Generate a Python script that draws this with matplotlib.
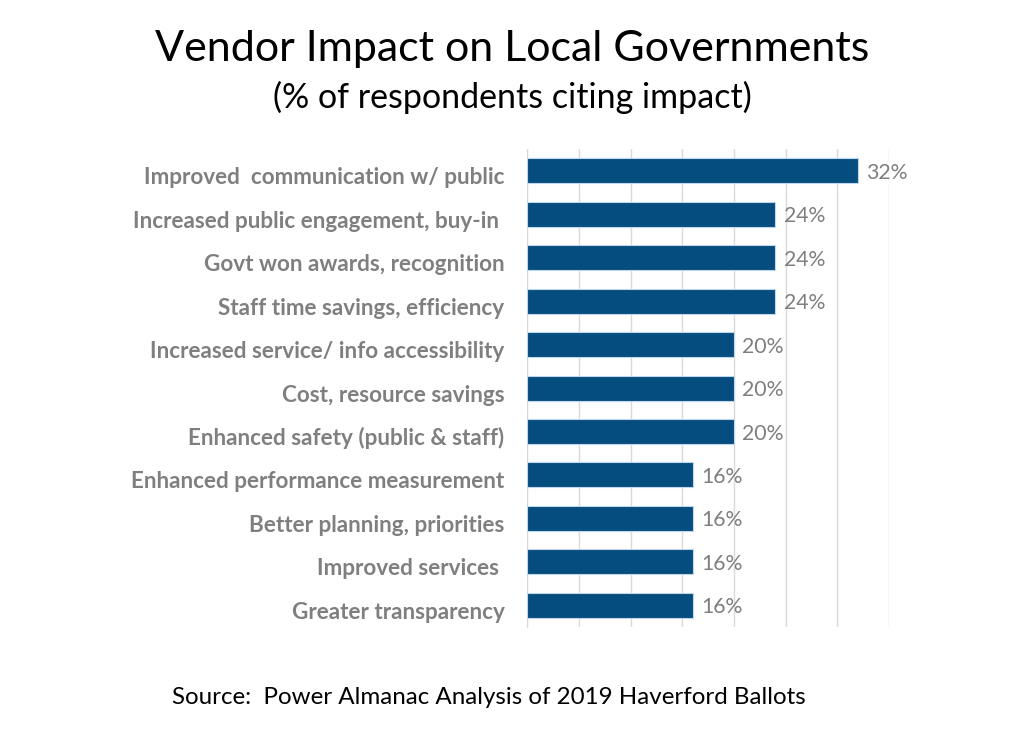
import matplotlib
matplotlib.use("Agg")
import matplotlib.pyplot as plt
import matplotlib.transforms as mtransforms

# data (top to bottom as shown)
categories = [
    "Improved  communication w/ public",
    "Increased public engagement, buy-in ",
    "Govt won awards, recognition",
    "Staff time savings, efficiency",
    "Increased service/ info accessibility",
    "Cost, resource savings",
    "Enhanced safety (public & staff)",
    "Enhanced performance measurement",
    "Better planning, priorities",
    "Improved services ",
    "Greater transparency",
]
values = [32, 24, 24, 24, 20, 20, 20, 16, 16, 16, 16]
ticks = [0, 5, 10, 15, 20, 25, 30, 35]

title = "Vendor Impact on Local Governments"
subtitle = "(% of respondents citing impact)"
source = "Source:  Power Almanac Analysis of 2019 Haverford Ballots"

plt.rcParams['font.family'] = ['Lato', 'DejaVu Sans']

fig = plt.figure(figsize=(10.24, 7.29), dpi=100)
ax = fig.add_axes([0.5151, 0.1399, 0.868 - 0.5151, 0.7956 - 0.1399])

ypos = list(range(len(categories)))
ax.barh(ypos, values, height=0.575, color="#064D7F", edgecolor="#BDD7EE",
        linewidth=0.8, zorder=3)

for y, v in zip(ypos, values):
    ax.annotate(f"{v}%", (v, y), xytext=(6, -1.5), textcoords="offset points",
                va="center", ha="left", fontsize=15.3, color="#7F7F7F")

ax.set_xlim(0, 35)
ax.set_ylim(len(categories) - 0.5, -0.5)
ax.set_xticks(ticks)
ax.set_xticklabels([])
ax.tick_params(axis="x", length=0)
ax.grid(axis="x", color="#D9D9D9", linewidth=1, zorder=0)

ax.set_yticks(ypos)
ax.set_yticklabels(categories, fontsize=16.2, fontweight="bold", color="#7F7F7F")
ax.tick_params(axis="y", length=0, pad=16.5)
# labels sit a few pixels lower than the bar centres in the original
shift = mtransforms.ScaledTranslation(0, -5 / 100, fig.dpi_scale_trans)
for lab in ax.get_yticklabels():
    lab.set_transform(lab.get_transform() + shift)

for s in ["top", "right", "bottom"]:
    ax.spines[s].set_visible(False)
ax.spines["left"].set_color("#D9D9D9")

fig.text(0.5, 0.933, title, ha="center", va="center", fontsize=31, color="black")
fig.text(0.5, 0.866, subtitle, ha="center", va="center", fontsize=24.5, color="black")
fig.text(0.4775, 0.043, source, ha="center", va="center", fontsize=17.4, color="black")

fig.savefig("out.png", dpi=100)
